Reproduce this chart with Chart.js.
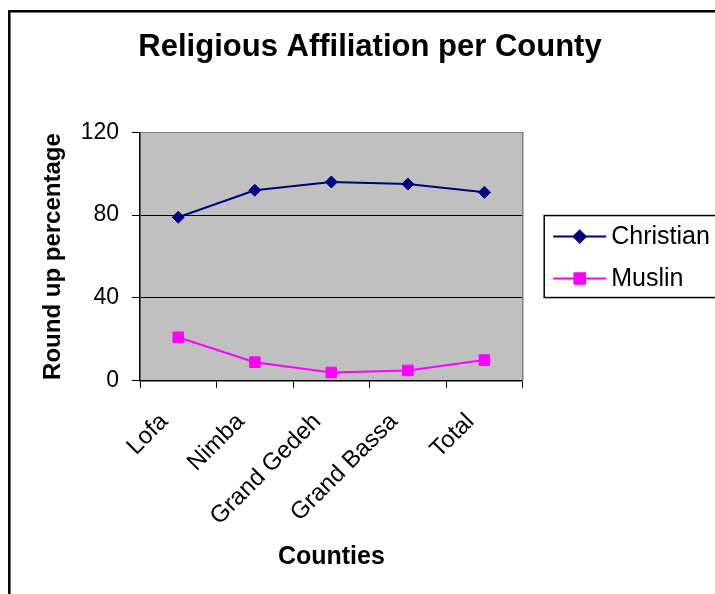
<!DOCTYPE html>
<html>
<head>
<meta charset="utf-8">
<title>Religious Affiliation per County</title>
<script src="https://cdn.jsdelivr.net/npm/chart.js@4/dist/chart.umd.min.js"></script>
<style>
  html, body { margin: 0; padding: 0; background: #ffffff; }
  #chart { display: block; }
</style>
</head>
<body>
<canvas id="chart" width="715" height="594"></canvas>
<script>
// Counties surveyed
const counties = ['Lofa', 'Nimba', 'Grand Gedeh', 'Grand Bassa', 'Total'];
// Rounded-up percentage of respondents per religion
const christian = [79, 92, 96, 95, 91];
const muslin = [21, 9, 4, 5, 10];
// Value axis ticks
const yTicks = [0, 40, 80, 120];

const FONT = "'Liberation Sans', Arial, Helvetica, sans-serif";

// Page frame, grey plot background and the framed legend on the right
const decorations = {
  id: 'decorations',
  beforeDraw(chart) {
    const { ctx, chartArea: a } = chart;
    ctx.save();
    ctx.fillStyle = '#ffffff';
    ctx.fillRect(0, 0, chart.width, chart.height);
    ctx.strokeStyle = '#000000';
    ctx.lineWidth = 2.5;
    ctx.strokeRect(9.3, 11.3, chart.width + 20, chart.height + 20);
    ctx.fillStyle = '#c0c0c0';
    ctx.fillRect(a.left, a.top, a.right - a.left, a.bottom - a.top);
    ctx.restore();
  },
  afterDraw(chart) {
    const { ctx, chartArea: a } = chart;
    const mid = (a.top + a.bottom) / 2;
    const x0 = a.right + 21.5;
    ctx.save();
    ctx.strokeStyle = '#000000';
    ctx.lineWidth = 1.5;
    ctx.strokeRect(x0, mid - 41, 220, 82);
    const rows = [mid - 20, mid + 22];
    chart.data.datasets.forEach((ds, i) => {
      const y = rows[i];
      ctx.strokeStyle = ds.borderColor;
      ctx.lineWidth = ds.borderWidth;
      ctx.beginPath();
      ctx.moveTo(x0 + 9, y);
      ctx.lineTo(x0 + 62, y);
      ctx.stroke();
      ctx.fillStyle = ds.pointBackgroundColor;
      ctx.strokeStyle = ds.pointBorderColor;
      Chart.helpers.drawPoint(ctx, {
        pointStyle: ds.pointStyle,
        radius: ds.pointRadius,
        borderWidth: ds.pointBorderWidth,
        rotation: 0
      }, x0 + 35.5, y);
      ctx.fillStyle = '#000000';
      ctx.font = '25px ' + FONT;
      ctx.textAlign = 'left';
      ctx.textBaseline = 'middle';
      ctx.fillText(ds.label, x0 + 67, y + 1);
    });
    ctx.restore();
  }
};

new Chart(document.getElementById('chart'), {
  type: 'line',
  data: {
    labels: counties,
    datasets: [
      {
        label: 'Christian',
        data: christian,
        borderColor: '#000080',
        backgroundColor: '#000080',
        borderWidth: 2,
        pointStyle: 'rectRot',
        pointRadius: 6,
        pointBackgroundColor: '#000080',
        pointBorderColor: '#000080',
        pointBorderWidth: 1,
        tension: 0
      },
      {
        label: 'Muslin',
        data: muslin,
        borderColor: '#ff00ff',
        backgroundColor: '#ff00ff',
        borderWidth: 2,
        pointStyle: 'rect',
        pointRadius: 7.5,
        pointBackgroundColor: '#ff00ff',
        pointBorderColor: '#ff00ff',
        pointBorderWidth: 1,
        tension: 0
      }
    ]
  },
  options: {
    responsive: false,
    animation: false,
    devicePixelRatio: 1,
    layout: { padding: { left: 35, right: 10, top: 0, bottom: 18 } },
    plugins: {
      legend: { display: false },
      tooltip: { enabled: false },
      title: {
        display: true,
        text: 'Religious Affiliation per County',
        color: '#000000',
        font: { family: FONT, size: 31, weight: 'bold' },
        padding: { top: 29, bottom: 66.1 }
      }
    },
    scales: {
      x: {
        type: 'category',
        offset: true,
        grid: {
          offset: true,
          drawOnChartArea: false,
          drawTicks: true,
          tickLength: 7,
          tickColor: '#000000',
          color: '#000000'
        },
        border: { display: true, color: '#000000', width: 1.5 },
        ticks: {
          color: '#000000',
          font: { family: FONT, size: 24 },
          minRotation: 45,
          maxRotation: 45,
          autoSkip: false,
          padding: 20,
          labelOffset: -14
        },
        title: {
          display: true,
          text: 'Counties',
          color: '#000000',
          font: { family: FONT, size: 25, weight: 'bold' },
          padding: { top: 4, bottom: 4 }
        },
        afterFit(scale) { scale.height = 195.2; }
      },
      y: {
        min: 0,
        max: 120,
        afterBuildTicks(scale) { scale.ticks = yTicks.map(v => ({ value: v })); },
        grid: {
          color: (c) => (c.tick && c.tick.value === 120 ? '#808080' : '#000000'),
          lineWidth: 1,
          drawTicks: true,
          tickLength: 8,
          tickColor: '#000000'
        },
        border: { display: true, color: '#000000', width: 1.5 },
        ticks: {
          color: '#000000',
          font: { family: FONT, size: 23 },
          padding: 13
        },
        title: {
          display: true,
          text: 'Round up percentage',
          color: '#000000',
          font: { family: FONT, size: 24, weight: 'bold' },
          padding: { top: 4, bottom: 4 }
        },
        afterFit(scale) { scale.width = 105; }
      },
      // right-hand edge of the plot, leaving room for the legend
      edge: {
        type: 'linear',
        position: 'right',
        display: true,
        grid: { drawOnChartArea: false, drawTicks: false },
        ticks: { display: false },
        border: { display: true, color: '#808080', width: 1.5 },
        afterFit(scale) { scale.width = 182.3; }
      }
    }
  },
  plugins: [decorations]
});
</script>
</body>
</html>
